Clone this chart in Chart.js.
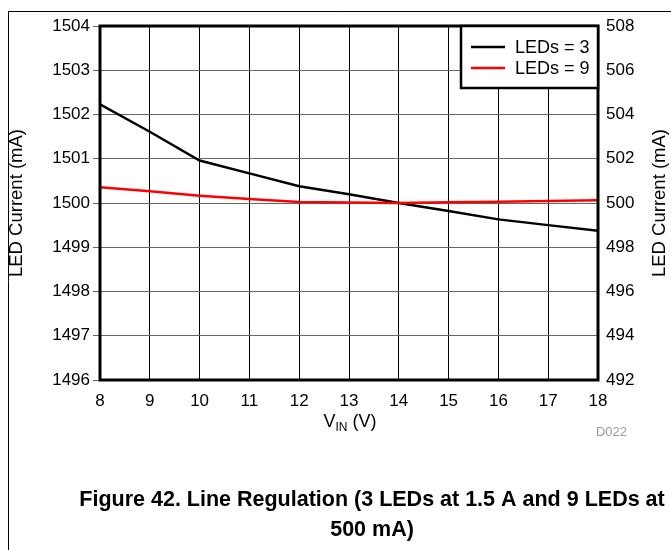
<!DOCTYPE html>
<html>
<head>
<meta charset="utf-8">
<script src="https://cdn.jsdelivr.net/npm/chart.js@4"></script>
<style>
  body { margin: 0; background: #fff; }
  #wrap { width: 671px; height: 550px; }
</style>
</head>
<body>
<div id="wrap"><canvas id="chart1" width="671" height="550"></canvas></div>
<script>
// data
const vin = [8, 9, 10, 11, 12, 13, 14, 15, 16, 17, 18]
const leds3 = [1502.23, 1501.61, 1500.96, 1500.67, 1500.38, 1500.20, 1500.00, 1499.82, 1499.63, 1499.50, 1499.37]
const leds9 = [500.71, 500.53, 500.33, 500.18, 500.04, 500.02, 500.00, 500.03, 500.06, 500.09, 500.12]
const seriesNames = ['LEDs = 3', 'LEDs = 9']
const leftTicks = [1496, 1504, 1]
const rightTicks = [492, 508, 2]

const FONT = 'Liberation Sans, Arial, sans-serif'

const extras = {
    id: 'extras',
    afterDraw(chart) {
        const ctx = chart.ctx
        const a = chart.chartArea
        ctx.save()

        // page frame (top and left rule)
        ctx.strokeStyle = '#000'
        ctx.lineWidth = 1
        ctx.beginPath()
        ctx.moveTo(671, 11.5)
        ctx.lineTo(8.5, 11.5)
        ctx.lineTo(8.5, 550)
        ctx.stroke()

        // plot border
        ctx.lineWidth = 3
        ctx.strokeRect(a.left, a.top, a.right - a.left, a.bottom - a.top)

        // legend box
        const lx = 461, ly = a.top, lw = a.right - lx, lh = 62
        ctx.fillStyle = '#fff'
        ctx.fillRect(lx, ly, lw, lh)
        ctx.lineWidth = 2.5
        ctx.strokeRect(lx, ly, lw, lh)
        ctx.font = '18px ' + FONT
        ctx.textBaseline = 'middle'
        ctx.textAlign = 'left'
        chart.data.datasets.forEach((ds, i) => {
            const y = 47 + i * 21
            ctx.strokeStyle = ds.borderColor
            ctx.lineWidth = 2.5
            ctx.beginPath()
            ctx.moveTo(471, y)
            ctx.lineTo(505, y)
            ctx.stroke()
            ctx.fillStyle = '#000'
            ctx.fillText(ds.label, 515, y + 1)
        })

        // x axis title with subscript
        ctx.fillStyle = '#000'
        ctx.font = '18px ' + FONT
        ctx.textBaseline = 'alphabetic'
        const w1 = ctx.measureText('V').width
        ctx.font = '12px ' + FONT
        const w2 = ctx.measureText('IN').width
        ctx.font = '18px ' + FONT
        const w3 = ctx.measureText(' (V)').width
        let x = 350 - (w1 + w2 + w3) / 2
        ctx.fillText('V', x, 427)
        ctx.font = '12px ' + FONT
        ctx.fillText('IN', x + w1, 431)
        ctx.font = '18px ' + FONT
        ctx.fillText(' (V)', x + w1 + w2, 427)

        // right axis title, reads bottom to top
        ctx.save()
        ctx.translate(660, (a.top + a.bottom) / 2)
        ctx.rotate(-Math.PI / 2)
        ctx.textAlign = 'center'
        ctx.textBaseline = 'middle'
        ctx.font = '18.5px ' + FONT
        ctx.fillText('LED Current (mA)', 0, 0)
        ctx.restore()

        // figure id
        ctx.fillStyle = '#999'
        ctx.font = '13px ' + FONT
        ctx.textAlign = 'right'
        ctx.textBaseline = 'middle'
        ctx.fillText('D022', 627, 432)

        // caption
        ctx.fillStyle = '#000'
        ctx.font = 'bold 21.5px ' + FONT
        ctx.textAlign = 'center'
        ctx.fillText('Figure 42. Line Regulation (3 LEDs at 1.5 A and 9 LEDs at', 372, 500)
        ctx.fillText('500 mA)', 372, 530)

        ctx.restore()
    }
}

const plain = v => String(v)

new Chart('chart1', {
    type: 'line',
    data: {
        datasets: [{
            label: seriesNames[0],
            data: vin.map((v, i) => ({ x: v, y: leds3[i] })),
            borderColor: '#000',
            borderWidth: 2.5,
            pointRadius: 0,
            yAxisID: 'y',
            order: 1
        }, {
            label: seriesNames[1],
            data: vin.map((v, i) => ({ x: v, y: leds9[i] })),
            borderColor: '#ff0000',
            borderWidth: 2.5,
            pointRadius: 0,
            yAxisID: 'y1',
            order: 0
        }]
    },
    options: {
        responsive: false,
        animation: false,
        events: [],
        layout: { padding: { top: 26, left: 0, right: 0, bottom: 0 } },
        plugins: { legend: { display: false }, tooltip: { enabled: false } },
        scales: {
            x: {
                type: 'linear',
                min: vin[0],
                max: vin[vin.length - 1],
                ticks: { stepSize: 1, color: '#000', font: { family: FONT, size: 17 }, padding: 11, callback: plain },
                grid: { color: '#000', lineWidth: 1, drawTicks: false },
                border: { display: false },
                afterFit: s => { s.height = 170 }
            },
            y: {
                position: 'left',
                min: leftTicks[0],
                max: leftTicks[1],
                ticks: { stepSize: leftTicks[2], color: '#000', font: { family: FONT, size: 17 }, padding: 3, callback: plain },
                grid: { color: '#666', lineWidth: 1, tickLength: 7 },
                border: { display: false },
                title: { display: true, text: 'LED Current (mA)', color: '#000', font: { family: FONT, size: 18.5 }, padding: { top: 6, bottom: 0 } },
                afterFit: s => { s.width = 100 }
            },
            y1: {
                position: 'right',
                min: rightTicks[0],
                max: rightTicks[1],
                ticks: { stepSize: rightTicks[2], color: '#000', font: { family: FONT, size: 17 }, padding: 8, callback: plain },
                grid: { display: false, drawTicks: false },
                border: { display: false },
                afterFit: s => { s.width = 73 }
            }
        }
    },
    plugins: [extras]
})
</script>
</body>
</html>
